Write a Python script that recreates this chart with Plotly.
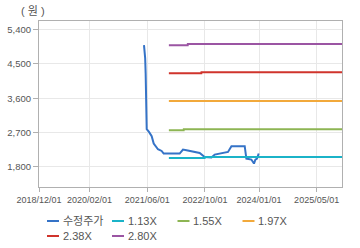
import plotly.graph_objects as go

price_dates = ["2021-05-05", "2021-05-15", "2021-05-19", "2021-05-22", "2021-05-28", "2021-06-16",
               "2021-07-09", "2021-07-26", "2021-08-31", "2021-10-01", "2021-10-18", "2022-03-02",
               "2022-03-30", "2022-05-09", "2022-08-18", "2022-09-29", "2022-11-25", "2022-12-23",
               "2023-02-20", "2023-04-14", "2023-05-13", "2023-09-02", "2023-09-16", "2023-10-28",
               "2023-11-19", "2023-12-01", "2023-12-15", "2023-12-29"]
price_values = [4993, 4652, 4259, 3524, 2789, 2718, 2606, 2414, 2264, 2220, 2152, 2152,
                2257, 2230, 2167, 2062, 2047, 2125, 2152, 2194, 2343, 2343, 2020, 1994,
                1889, 1994, 2020, 2152]

band_names = ["1.13X", "1.55X", "1.97X", "2.38X", "2.80X"]
band_colors = ["#1bb3c8", "#8db553", "#f2a93b", "#d0342c", "#9b55a3"]
band_dates = {
    "1.13X": ["2021-12-01", "2022-09-29", "2022-09-30", "2025-12-01"],
    "1.55X": ["2021-12-01", "2022-04-05", "2022-04-06", "2025-12-01"],
    "1.97X": ["2021-12-01", "2025-12-01"],
    "2.38X": ["2021-12-01", "2022-09-01", "2022-09-02", "2025-12-01"],
    "2.80X": ["2021-12-01", "2022-05-09", "2022-05-10", "2025-12-01"],
}
band_values = {
    "1.13X": [2036, 2036, 2060, 2060],
    "1.55X": [2762, 2762, 2789, 2789],
    "1.97X": [3528, 3528],
    "2.38X": [4255, 4255, 4283, 4283],
    "2.80X": [4992, 4992, 5025, 5025],
}

x_tickvals = ["2018-12-01", "2020-02-01", "2021-06-01", "2022-10-01", "2024-01-01", "2025-05-01"]
x_ticktext = ["2018/12/01", "2020/02/01", "2021/06/01", "2022/10/01", "2024/01/01", "2025/05/01"]
y_tickvals = [1800, 2700, 3600, 4500, 5400]
y_ticktext = ["1,800", "2,700", "3,600", "4,500", "5,400"]

price_name = "수정주가"
price_color = "#3573c7"

font_family = "Liberation Sans, Noto Sans CJK KR, sans-serif"
text_color = "#555555"

fig = go.Figure()
fig.add_trace(go.Scatter(x=price_dates, y=price_values, mode="lines", name=price_name,
                         line=dict(color=price_color, width=2), showlegend=False))
for n, c in zip(band_names, band_colors):
    fig.add_trace(go.Scatter(x=band_dates[n], y=band_values[n], mode="lines", name=n,
                             line=dict(color=c, width=2), showlegend=False))

# manual legend
legend_items = [(price_name, price_color)] + list(zip(band_names, band_colors))
col_x = [47, 112, 177.5, 242.5]
row_y = [221, 236]
W, H = 360, 248
ml, mr, mt, mb = 39, 18, 21, 61
pw, ph = W - ml - mr, H - mt - mb

def px_to_paper_x(px):
    return (px - ml) / pw

def px_to_paper_y(py):
    return (H - mb - py) / ph

for i, (name, color) in enumerate(legend_items):
    r, c = divmod(i, 4)
    x0 = col_x[c]
    y = row_y[r]
    fig.add_shape(type="line", xref="paper", yref="paper",
                  x0=px_to_paper_x(x0), x1=px_to_paper_x(x0 + 12),
                  y0=px_to_paper_y(y), y1=px_to_paper_y(y),
                  line=dict(color=color, width=2))
    fig.add_annotation(text=name, xref="paper", yref="paper",
                       x=px_to_paper_x(x0 + 13.5), y=px_to_paper_y(y),
                       xanchor="left", yanchor="middle", showarrow=False,
                       font=dict(size=11, color=text_color, family=font_family))

fig.add_annotation(text="( 원 )", xref="paper", yref="paper",
                   x=px_to_paper_x(33), y=px_to_paper_y(11),
                   xanchor="center", yanchor="middle", showarrow=False,
                   font=dict(size=11, color=text_color, family=font_family))

fig.update_layout(
    width=W, height=H,
    margin=dict(l=ml, r=mr, t=mt, b=mb),
    paper_bgcolor="white", plot_bgcolor="white",
    font=dict(family=font_family, size=10, color=text_color),
    showlegend=False,
)
fig.update_xaxes(type="date", range=["2018-12-01", "2025-12-01"],
                 tickvals=x_tickvals, ticktext=x_ticktext, tickangle=0, automargin=False,
                 showgrid=True, gridcolor="#e8e8e8", gridwidth=1,
                 showline=True, linecolor="#b0b0b0", linewidth=1, mirror=True,
                 ticks="outside", ticklen=4, tickcolor="#b0b0b0",
                 tickfont=dict(size=9, color=text_color), zeroline=False)
fig.update_yaxes(range=[1275, 5625], tickvals=y_tickvals, ticktext=y_ticktext,
                 automargin=False,
                 showgrid=True, gridcolor="#e8e8e8", gridwidth=1,
                 showline=True, linecolor="#b0b0b0", linewidth=1, mirror=True,
                 ticks="outside", ticklen=5, tickcolor="#b0b0b0",
                 tickfont=dict(size=9.5, color=text_color), zeroline=False)

fig.write_html("out.html")
